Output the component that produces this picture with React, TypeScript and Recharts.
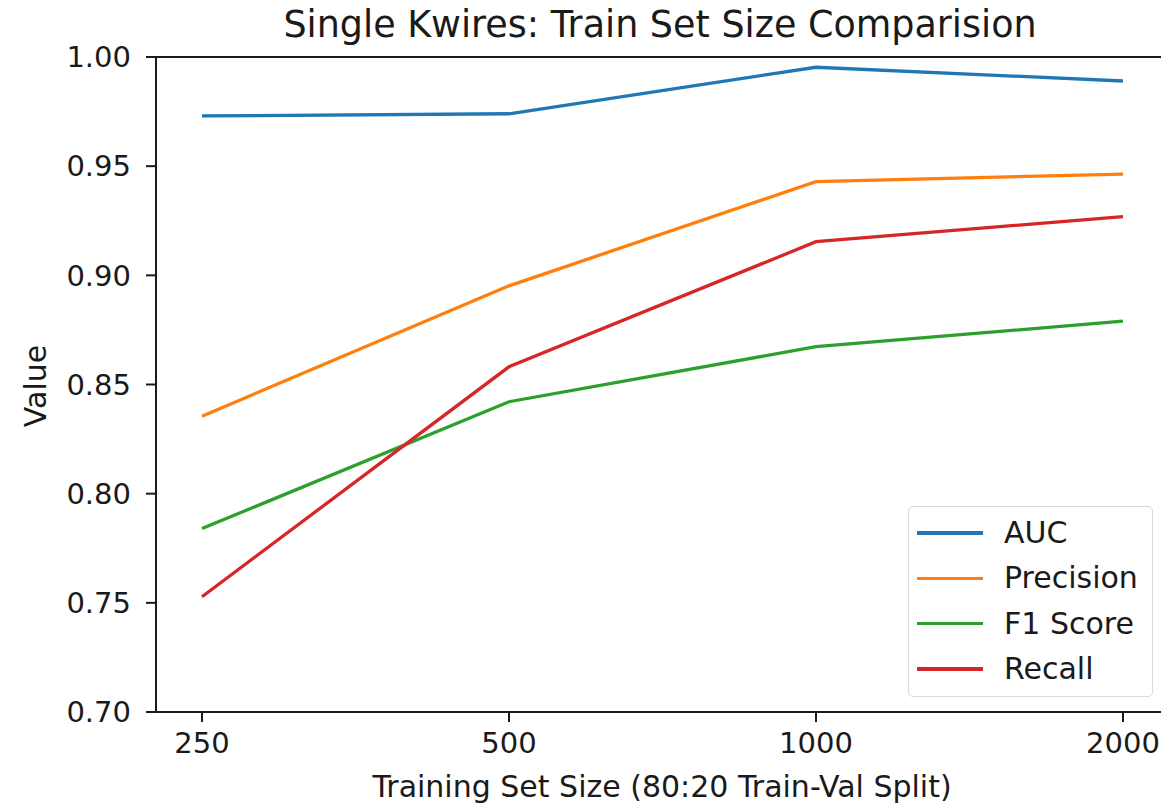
import React from 'react';
import { LineChart, Line, XAxis, YAxis, ReferenceLine, Legend } from 'recharts';

const sizes = ['250', '500', '1000', '2000'];
const auc = [0.973, 0.974, 0.9953, 0.989];
const precision = [0.8355, 0.8952, 0.9429, 0.9464];
const f1Score = [0.784, 0.8421, 0.8673, 0.879];
const recall = [0.7528, 0.8581, 0.9154, 0.9269];
const yTicks = [0.7, 0.75, 0.8, 0.85, 0.9, 0.95, 1.0];

const seriesNames = ['AUC', 'Precision', 'F1 Score', 'Recall'];
const seriesKeys = ['auc', 'precision', 'f1', 'recall'];
const seriesColors = ['#1f77b4', '#ff7f0e', '#2ca02c', '#d62728'];

const data = sizes.map((s, i) => ({
  size: s,
  auc: auc[i],
  precision: precision[i],
  f1: f1Score[i],
  recall: recall[i],
}));

const FONT = '"DejaVu Sans", sans-serif';
const TEXT = '#1a1a1a';

const LegendBox = () => (
  <div
    style={{
      width: 245,
      height: 191,
      boxSizing: 'border-box',
      border: '1.5px solid #d9d9d9',
      borderRadius: 5,
      background: 'rgba(255,255,255,0.8)',
      position: 'relative',
      fontFamily: FONT,
    }}
  >
    {seriesNames.map((n, i) => (
      <div key={n}>
        <div
          style={{
            position: 'absolute',
            left: 8,
            top: 26 + i * 45.3 - 1.75,
            width: 66,
            height: 3.5,
            background: seriesColors[i],
          }}
        />
        <div
          style={{
            position: 'absolute',
            left: 95,
            top: 26 + i * 45.3 - 18,
            fontSize: 30,
            lineHeight: '35px',
            color: TEXT,
            whiteSpace: 'nowrap',
          }}
        >
          {n}
        </div>
      </div>
    ))}
  </div>
);

export default function App() {
  return (
    <div
      style={{
        position: 'absolute',
        left: 0,
        top: 0,
        width: 1161,
        height: 805,
        overflow: 'hidden',
        background: '#fff',
      }}
    >
      <LineChart
        width={1180}
        height={805}
        data={data}
        margin={{ top: 57, right: 11, bottom: 33, left: 0 }}
      >
        <XAxis
          dataKey="size"
          height={60}
          padding={{ left: 46, right: 46 }}
          tickSize={10}
          tickMargin={10}
          axisLine={{ stroke: TEXT, strokeWidth: 2 }}
          tickLine={{ stroke: TEXT, strokeWidth: 2 }}
          tick={{ fill: TEXT, fontSize: 29, fontFamily: FONT }}
          interval={0}
        />
        <YAxis
          width={156}
          domain={[0.7, 1.0]}
          ticks={yTicks}
          type="number"
          allowDataOverflow
          tickFormatter={(v: number) => v.toFixed(2)}
          tickSize={10}
          tickMargin={15}
          axisLine={{ stroke: TEXT, strokeWidth: 2 }}
          tickLine={{ stroke: TEXT, strokeWidth: 2 }}
          tick={{ fill: TEXT, fontSize: 29, fontFamily: FONT }}
        />
        <ReferenceLine y={1.0} stroke={TEXT} strokeWidth={2} />
        {seriesKeys.map((k, i) => (
          <Line
            key={k}
            dataKey={k}
            name={seriesNames[i]}
            stroke={seriesColors[i]}
            strokeWidth={3.3}
            dot={false}
            activeDot={false}
            isAnimationActive={false}
          />
        ))}
        <Legend
          layout="vertical"
          align="center"
          verticalAlign="middle"
          content={() => <LegendBox />}
          wrapperStyle={{ position: 'absolute', left: 908, top: 506, width: 245, height: 191 }}
        />
        <text
          x={660}
          y={37}
          textAnchor="middle"
          fontSize={36.5}
          fontFamily={FONT}
          fill={TEXT}
        >
          Single Kwires: Train Set Size Comparision
        </text>
        <text
          x={662}
          y={797}
          textAnchor="middle"
          fontSize={30}
          fontFamily={FONT}
          fill={TEXT}
        >
          Training Set Size (80:20 Train-Val Split)
        </text>
        <text
          transform="translate(46,386) rotate(-90)"
          textAnchor="middle"
          fontSize={30}
          fontFamily={FONT}
          fill={TEXT}
        >
          Value
        </text>
      </LineChart>
    </div>
  );
}
